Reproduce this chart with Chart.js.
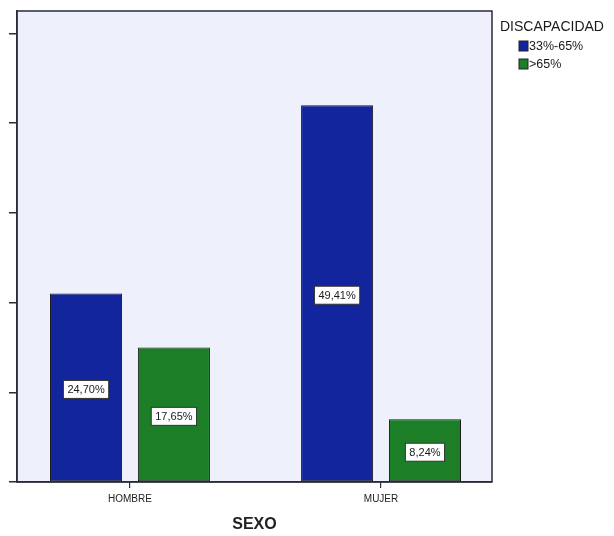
<!DOCTYPE html>
<html>

<head>
    <title>Discapacidad por sexo</title>
    <script src="https://cdn.jsdelivr.net/npm/chart.js"></script>
    <style>
        body { margin: 0; background: #ffffff; }
    </style>
</head>

<body>
    <canvas id="myChart" width="614" height="536"></canvas>

    <script>
        // data (counts, N = 85; labels are the printed percentages)
        const categories = ['HOMBRE', 'MUJER'];
        const seriesNames = ['33%-65%', '>65%'];
        const countsLow = [21, 42];
        const countsHigh = [15, 7];
        const pctLow = ['24,70%', '49,41%'];
        const pctHigh = ['17,65%', '8,24%'];
        const yTicks = [0, 10, 20, 30, 40, 50];

        const colors = ['#13259c', '#1c7f28'];
        const frameColor = '#2b2b3b';

        const toPoints = (vals) => vals.map((v, i) => ({ x: i, y: v }));

        const chartData = {
            datasets: [
                { label: seriesNames[0], data: toPoints(countsLow), pct: pctLow, backgroundColor: colors[0] },
                { label: seriesNames[1], data: toPoints(countsHigh), pct: pctHigh, backgroundColor: colors[1] }
            ].map(ds => Object.assign(ds, {
                borderColor: '#1a1a1a',
                borderWidth: 1,
                borderSkipped: false,
                categoryPercentage: 0.70,
                barPercentage: 0.82
            }))
        };

        // plot background + frame
        const framePlugin = {
            id: 'frame',
            beforeDraw(chart) {
                const { ctx, chartArea: a } = chart;
                ctx.save();
                ctx.fillStyle = '#ffffff';
                ctx.fillRect(0, 0, chart.width, chart.height);
                ctx.fillStyle = '#eef0fb';
                ctx.fillRect(a.left, a.top, a.right - a.left, a.bottom - a.top);
                ctx.restore();
            },
            afterDraw(chart) {
                const { ctx, chartArea: a } = chart;
                ctx.save();
                ctx.strokeStyle = frameColor;
                ctx.lineWidth = 1.5;
                ctx.strokeRect(a.left, a.top, a.right - a.left, a.bottom - a.top);
                ctx.restore();
            }
        };

        // percentage boxes in the middle of each bar
        const pctPlugin = {
            id: 'pctLabels',
            afterDatasetsDraw(chart) {
                const { ctx } = chart;
                ctx.save();
                ctx.font = '11px "Liberation Sans", Arial, sans-serif';
                ctx.textAlign = 'center';
                ctx.textBaseline = 'middle';
                chart.data.datasets.forEach((ds, di) => {
                    chart.getDatasetMeta(di).data.forEach((el, i) => {
                        const txt = ds.pct[i];
                        const cx = el.x;
                        const cy = (el.y + el.base) / 2 + 2;
                        const w = ctx.measureText(txt).width + 8;
                        const h = 18;
                        ctx.fillStyle = '#ffffff';
                        ctx.fillRect(cx - w / 2, cy - h / 2, w, h);
                        ctx.strokeStyle = '#333333';
                        ctx.lineWidth = 1;
                        ctx.strokeRect(cx - w / 2, cy - h / 2, w, h);
                        ctx.fillStyle = '#1a1a1a';
                        ctx.fillText(txt, cx, cy + 1);
                    });
                });
                ctx.restore();
            }
        };

        // legend on the right
        const legendPlugin = {
            id: 'sideLegend',
            afterDraw(chart) {
                const { ctx, chartArea: a } = chart;
                const x0 = a.right + 8;
                ctx.save();
                ctx.fillStyle = '#1a1a1a';
                ctx.textBaseline = 'middle';
                ctx.font = '14px "Liberation Sans", Arial, sans-serif';
                ctx.fillText('DISCAPACIDAD', x0, 27);
                ctx.font = '12.5px "Liberation Sans", Arial, sans-serif';
                chart.data.datasets.forEach((ds, i) => {
                    const y = 46 + i * 18;
                    ctx.fillStyle = ds.backgroundColor;
                    ctx.fillRect(x0 + 19, y - 5, 9, 10);
                    ctx.strokeStyle = '#222222';
                    ctx.lineWidth = 1;
                    ctx.strokeRect(x0 + 19, y - 5, 9, 10);
                    ctx.fillStyle = '#1a1a1a';
                    ctx.fillText(ds.label, x0 + 29, y + 1);
                });
                ctx.restore();
            }
        };

        const chartOptions = {
            responsive: false,
            animation: false,
            layout: { padding: { top: 11, right: 122, bottom: 0, left: 0 } },
            scales: {
                x: {
                    type: 'linear',
                    offset: false,
                    min: -0.45,
                    max: 1.442,
                    afterBuildTicks: (scale) => {
                        scale.ticks = categories.map((c, i) => ({ value: i }));
                    },
                    afterFit: (scale) => { scale.height = 54; },
                    ticks: {
                        callback: (v) => categories[v],
                        font: { family: '"Liberation Sans", Arial, sans-serif', size: 10 },
                        color: '#222222',
                        padding: 5,
                        maxRotation: 0
                    },
                    grid: {
                        offset: false,
                        drawOnChartArea: false,
                        drawTicks: true,
                        tickLength: 6,
                        color: frameColor,
                        lineWidth: 1.2
                    },
                    border: { display: true, color: frameColor, width: 1.5 },
                    title: {
                        display: true,
                        text: 'SEXO',
                        font: { family: '"Liberation Sans", Arial, sans-serif', size: 16, weight: 'bold' },
                        color: '#222222',
                        padding: { top: 0, bottom: 2 }
                    }
                },
                y: {
                    min: 0,
                    max: 52.5,
                    afterBuildTicks: (scale) => {
                        scale.ticks = yTicks.map(v => ({ value: v }));
                    },
                    afterFit: (scale) => { scale.width = 17; },
                    ticks: { display: false },
                    grid: {
                        drawOnChartArea: false,
                        drawTicks: true,
                        tickLength: 8,
                        color: frameColor,
                        lineWidth: 1.5
                    },
                    border: { display: true, color: frameColor, width: 1.5 }
                }
            },
            plugins: {
                legend: { display: false },
                tooltip: { enabled: false }
            }
        };

        const chart = new Chart('myChart', {
            type: 'bar',
            data: chartData,
            options: chartOptions,
            plugins: [framePlugin, pctPlugin, legendPlugin]
        });
    </script>
</body>

</html>
